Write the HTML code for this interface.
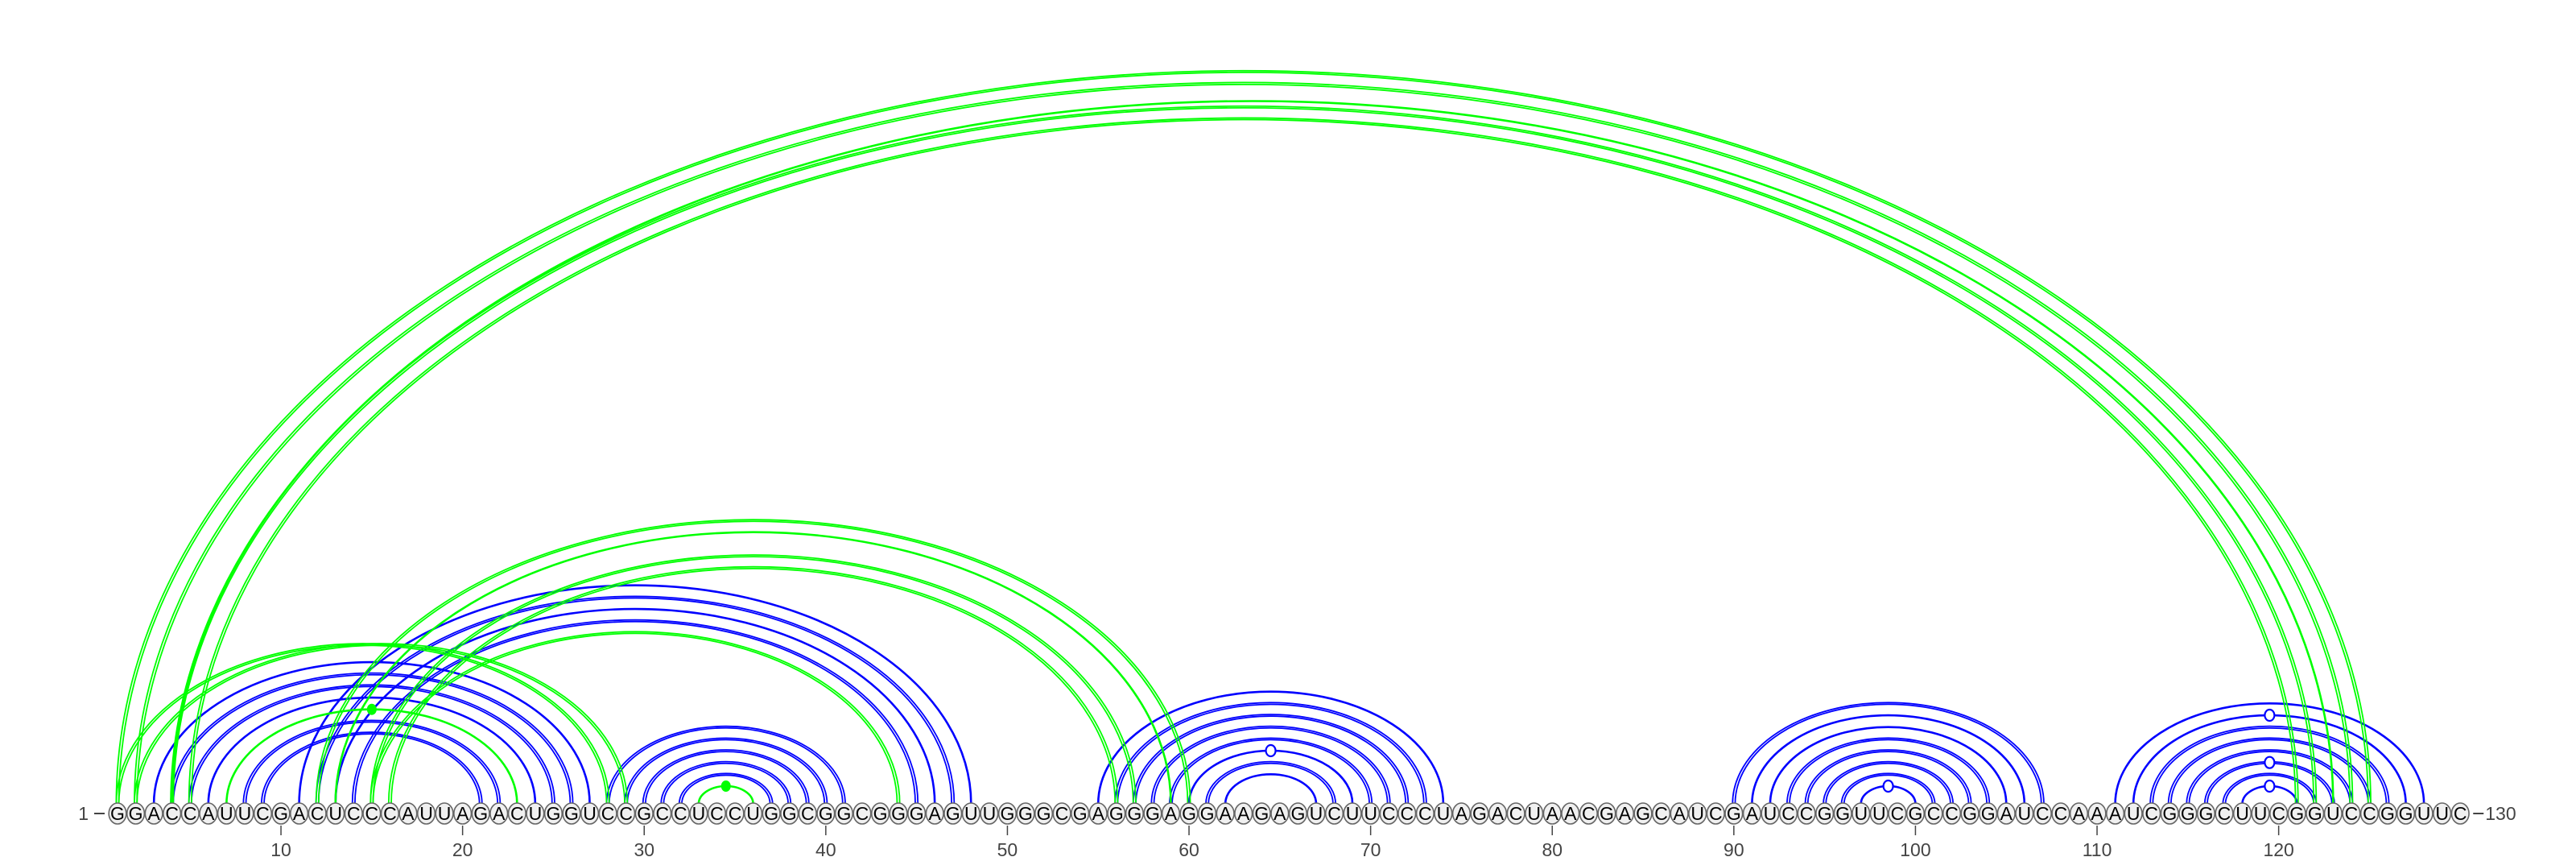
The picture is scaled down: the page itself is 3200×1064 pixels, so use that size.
<!DOCTYPE html>
<html><head><meta charset="utf-8"><style>
html,body{margin:0;padding:0;background:#fff;}
svg{display:block;}
</style></head><body>
<svg id="chart" width="3200" height="1064" viewBox="0 0 3200 1064" xmlns="http://www.w3.org/2000/svg">
<g id="arcs"></g>
<g id="bases"></g>
<g id="axis"></g>
</svg>
<script>
const sequence = "GGACCAUUCGACUCCCAUUAGACUGGUCCGCCUCCUGGCGGCGGGAGUUGGGCGAGGGAGGAAGAGUCUUCCCUAGACUAACGAGCAUCGAUCCGGUUCGCCGGAUCCAAAUCGGGCUUCGGUCCGGUUC";
const blueI = [3,4,5,6,8,9, 11,12,13,14, 28,29,30,31,32, 55,56,57,58,59,60,61,62, 90,91,92,93,94,95,96,97, 111,112,113,114,115,116,117,118];
const blueJ = [27,26,25,24,22,21, 48,47,46,45, 41,40,39,38,37, 74,73,72,71,70,69,68,67, 107,106,105,104,103,102,101,100, 128,127,126,125,124,123,122,121];
const blueDouble = [0,1,1,0,1,1, 0,1,0,1, 1,1,1,1,1, 0,1,1,1,1,0,1,0, 1,0,0,1,1,1,1,0, 0,0,1,1,1,1,1,0];
const greenI = [1,2,4,4,5, 1,2, 7, 12,13,15,16, 15, 33];
const greenJ = [125,124,123,122,121, 28,29, 23, 60,59,57,56, 44, 36];
const greenDouble = [1,1,0,1,1, 1,1, 0, 1,0,1,1, 1, 0];
const openDots = [[97,100],[112,127],[116,123],[118,121],[60,69]];
const filledDots = [[7,23],[33,36]];
const tickLabels = [10,20,30,40,50,60,70,80,90,100,110,120];

const NS = "http://www.w3.org/2000/svg";
const FONT = '"Liberation Sans Narrow", "Liberation Sans", sans-serif';
const X0 = 146, DX = 22.56, BASEY = 1010, ARCY = 998, RATIO = 0.65;
function xPos(i){ return X0 + (i-1)*DX; }
function mk(tag, attrs, parent){
  const e = document.createElementNS(NS, tag);
  for (const k in attrs) e.setAttribute(k, attrs[k]);
  parent.appendChild(e); return e;
}
const arcs = document.getElementById('arcs');
function arc(i, j, color, dbl, name){
  const cx = (xPos(i)+xPos(j))/2, rx = (xPos(j)-xPos(i))/2;
  const offs = dbl ? [-1.6, 1.6] : [0];
  offs.forEach(o => {
    const r = rx + o, ry = r*RATIO;
    const d = `M${cx-r},${ARCY} A${r},${ry} 0 0 1 ${cx+r},${ARCY}`;
    const p = mk('path', {d:d, fill:'none', stroke:color, 'stroke-width': dbl?1.8:2.6}, arcs);
    
    
  });
}
for (let k=0;k<blueI.length;k++) arc(blueI[k], blueJ[k], '#0000ff', blueDouble[k], 'blue-arc-'+blueI[k]+'-'+blueJ[k]);
for (let k=0;k<greenI.length;k++) arc(greenI[k], greenJ[k], '#00ff00', greenDouble[k], 'green-arc-'+greenI[k]+'-'+greenJ[k]);
function dotTop(p){ const rx=(xPos(p[1])-xPos(p[0]))/2; return [(xPos(p[0])+xPos(p[1]))/2, ARCY - rx*RATIO]; }
openDots.forEach(p => {
  const [cx,cy] = dotTop(p);
  const e = mk('ellipse', {cx:cx, cy:cy, rx:6, ry:7, fill:'#fff', stroke:'#0000ff', 'stroke-width':2.2}, arcs);
  
  
});
filledDots.forEach(p => {
  const [cx,cy] = dotTop(p);
  const e = mk('ellipse', {cx:cx, cy:cy, rx:6, ry:7, fill:'#00ff00'}, arcs);
  
  
});
const bases = document.getElementById('bases');
for (let i=1;i<=sequence.length;i++){
  const g = mk('g', {}, bases);
  
  
  mk('ellipse', {cx:xPos(i), cy:BASEY, rx:10.8, ry:13, fill:'#f0f0f0', stroke:'#666', 'stroke-width':1.6}, g);
  const t = mk('text', {x:xPos(i), y:BASEY+8, 'text-anchor':'middle', 'font-family':FONT, 'font-size':23, fill:'#000'}, g);
  t.textContent = sequence[i-1];
}
const axis = document.getElementById('axis');
const s1 = mk('text', {x:110, y:BASEY+8, 'text-anchor':'end', 'font-family':FONT, 'font-size':23, fill:'#444'}, axis);
s1.textContent = '1';


mk('line', {x1:117, x2:130, y1:BASEY, y2:BASEY, stroke:'#444', 'stroke-width':2}, axis);
mk('line', {x1:xPos(130)+16, x2:xPos(130)+29, y1:BASEY, y2:BASEY, stroke:'#444', 'stroke-width':2}, axis);
const s2 = mk('text', {x:xPos(130)+31, y:BASEY+8, 'text-anchor':'start', 'font-family':FONT, 'font-size':23, fill:'#444'}, axis);
s2.textContent = '130';


tickLabels.forEach(v => {
  const tk = mk('line', {x1:xPos(v), x2:xPos(v), y1:1025, y2:1037, stroke:'#444', 'stroke-width':1.5}, axis);
  
  
  const t = mk('text', {x:xPos(v), y:1063, 'text-anchor':'middle', 'font-family':FONT, 'font-size':23, fill:'#444'}, axis);
  t.textContent = v;
  
  
});
</script>
</body></html>
